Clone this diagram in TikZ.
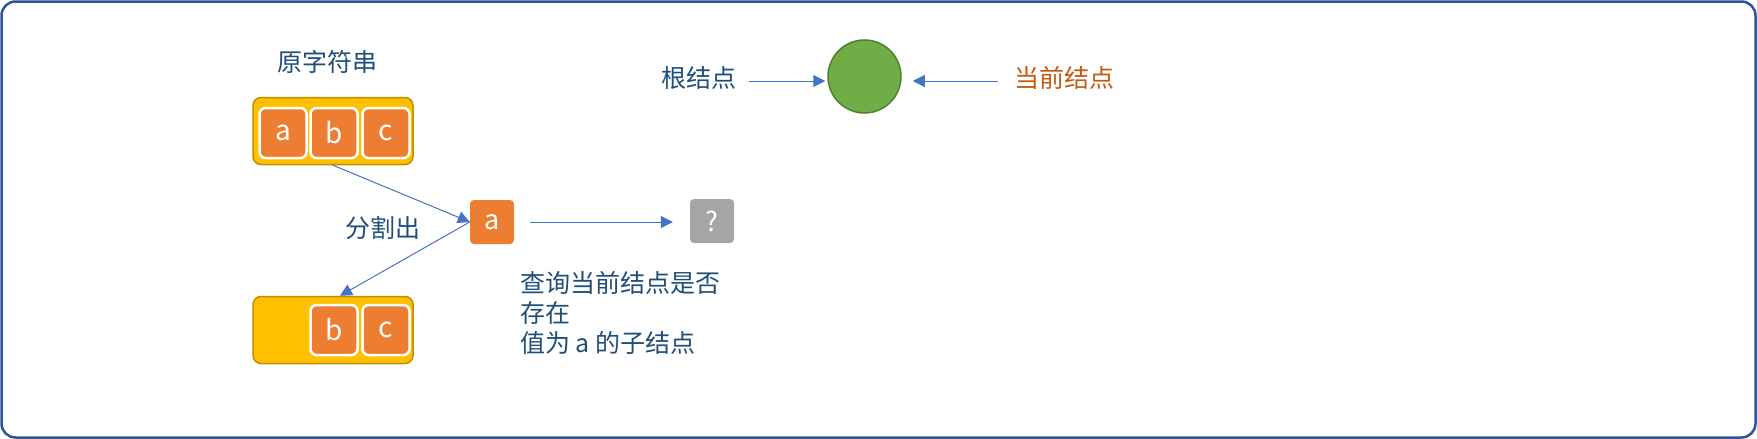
\documentclass[tikz,border=0pt]{standalone}
\usepackage{fontspec}
\setmainfont{Noto Sans CJK SC}
\usetikzlibrary{arrows.meta,calc}
\definecolor{txtblue}{HTML}{1F4E79}
\definecolor{txtorange}{HTML}{C55A11}
\definecolor{framecol}{HTML}{2F5597}
\definecolor{yelfill}{HTML}{FFC000}
\definecolor{yeldraw}{HTML}{BF9000}
\definecolor{orfill}{HTML}{ED7D31}
\definecolor{grayfill}{HTML}{A5A5A5}
\definecolor{grfill}{HTML}{70AD47}
\definecolor{grdraw}{HTML}{507E32}
\definecolor{arrcol}{HTML}{4472C4}
\tikzset{
  strbox/.style={draw=yeldraw, fill=yelfill, line width=1.5pt, rounded corners=8pt,
    minimum width=160pt, minimum height=67pt, inner sep=0pt},
  charbox/.style={draw=white, fill=orfill, line width=2.5pt, rounded corners=6pt,
    minimum width=47pt, minimum height=50pt, inner sep=0pt, text=white,
    font=\fontsize{28}{30}\selectfont},
  smallbox/.style={fill=#1, rounded corners=4pt, minimum width=44pt, minimum height=44pt,
    inner sep=0pt, text=white, font=\fontsize{27}{30}\selectfont},
  lbl/.style={text=txtblue, font=\fontsize{25}{30}\selectfont, inner sep=0pt},
  conn/.style={draw=arrcol, line width=1pt, -{Triangle[length=12pt,width=12pt]}},
}
\begin{document}
\begin{tikzpicture}[x=1pt,y=-1pt]
\useasboundingbox (0,0) rectangle (1757,439);
\draw[framecol, line width=2.5pt, rounded corners=14pt] (1.5,1.5) rectangle (1755.5,437.5);

% original string
\node[lbl] (title) at (327,62) {原字符串};
\node[strbox] (top) at (333,131) {};
\node[charbox] (a1) at (283,133) {a};
\node[charbox] (b1) at (334,133) {b};
\node[charbox] (c1) at (386,133) {c};

% remaining string
\node[strbox] (bot) at (333,330) {};
\node[charbox] (b2) at (334,330) {b};
\node[charbox] (c2) at (386,330) {c};

% split char and query
\node[smallbox=orfill] (a) at (492,222) {a};
\node[smallbox=grayfill] (q) at (712,221) {?};
\node[lbl] (split) at (383,228) {分割出};
\node[lbl, anchor=west, align=left, font=\fontsize{25}{30}\selectfont] (query) at (520,313)
  {查询当前结点是否\\存在\\值为 a 的子结点};

% tree node
\node[circle, draw=grdraw, fill=grfill, line width=1.5pt, minimum size=73pt, inner sep=0pt] (root) at (864.5,76.5) {};
\node[lbl] (rootlbl) at (699,78) {根结点};
\node[lbl, text=txtorange] (curlbl) at (1064,78) {当前结点};

% connectors
\draw[conn] (top.south) -- (a.west);
\draw[conn] (a.west) -- ($(bot.north)+(7,0)$);
\draw[conn, shorten <=16pt, shorten >=17pt] (a.east) -- (a.east -| q.west);
\draw[conn, shorten <=12pt, shorten >=2pt] ($(rootlbl.east)+(0,3)$) -- ($(rootlbl.east -| root.west)+(0,3)$);
\draw[conn, shorten <=16pt, shorten >=11pt] ($(curlbl.west)+(0,3)$) -- ($(curlbl.west -| root.east)+(0,3)$);
\end{tikzpicture}
\end{document}
